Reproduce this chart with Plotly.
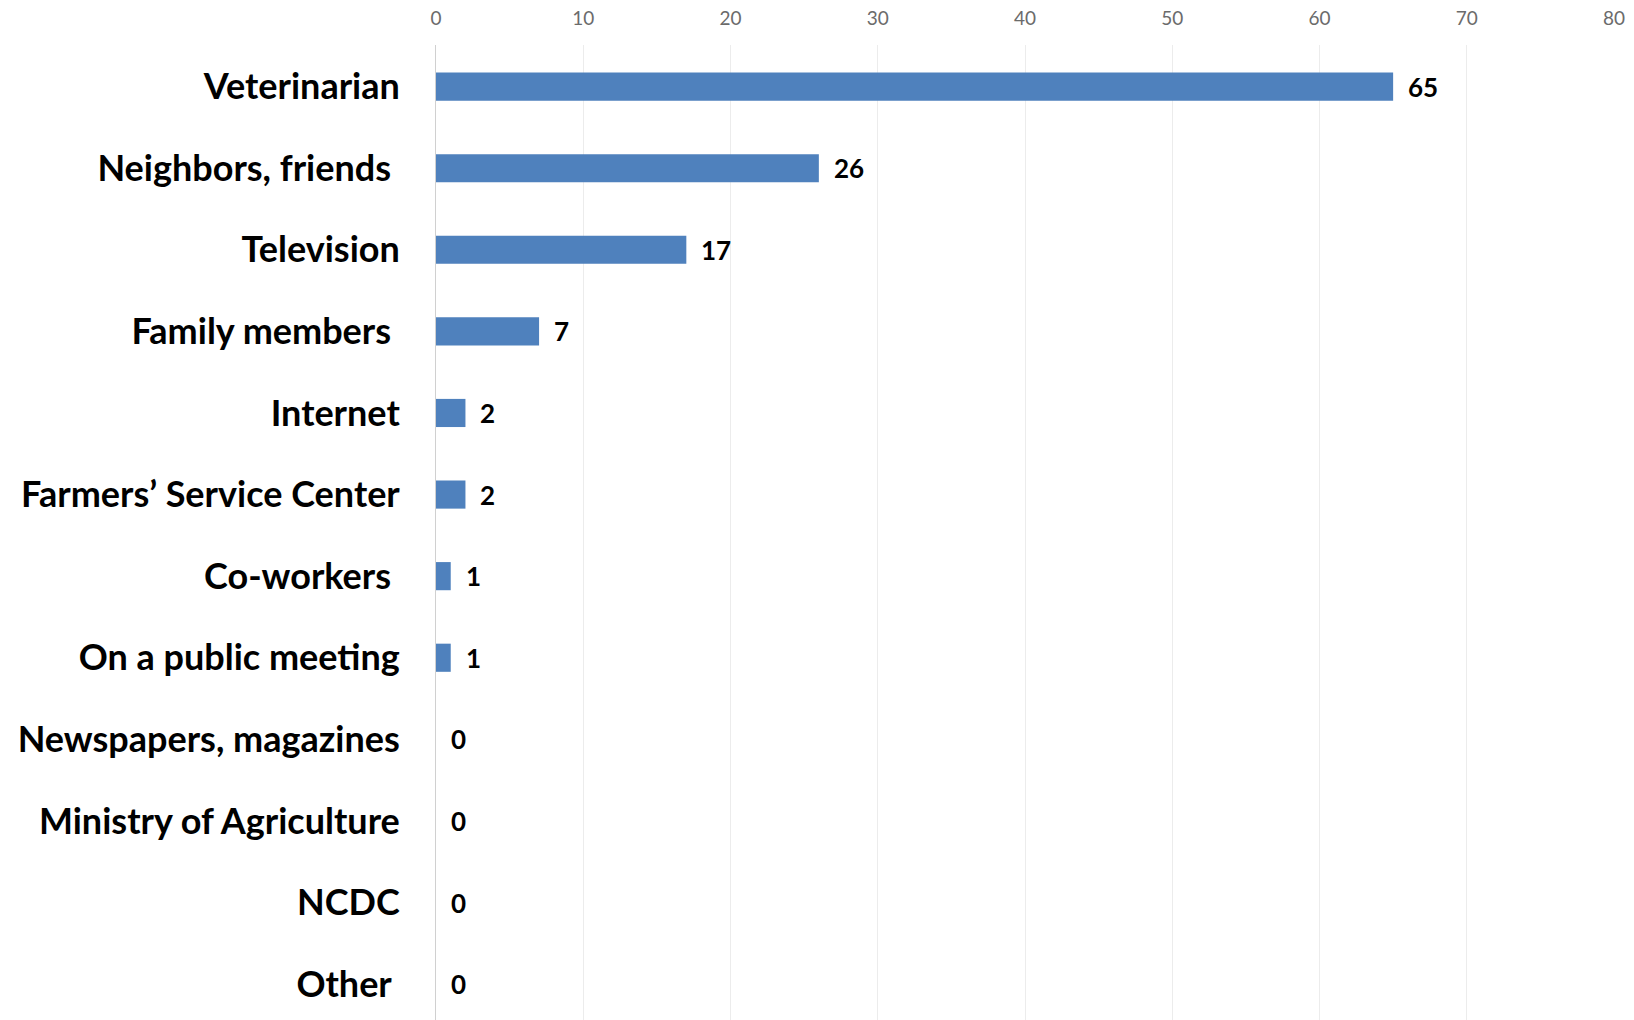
import plotly.graph_objects as go

# categories, top to bottom (trailing nbsp kept where the source label has a trailing space)
sources = [
    "Veterinarian",
    "Neighbors, friends\u00a0",
    "Television",
    "Family members\u00a0",
    "Internet",
    "Farmers’ Service Center",
    "Co-workers\u00a0",
    "On a public meeting",
    "Newspapers, magazines",
    "Ministry of Agriculture",
    "NCDC",
    "Other\u00a0",
]
counts = [65, 26, 17, 7, 2, 2, 1, 1, 0, 0, 0, 0]
x_ticks = [0, 10, 20, 30, 40, 50, 60, 70, 80]

fig = go.Figure()
fig.add_trace(go.Bar(
    x=counts, y=sources, orientation="h",
    marker=dict(color="#4F81BD", line=dict(width=0)),
    hoverinfo="x+y",
))

# value labels just right of each bar end
for s, c in zip(sources, counts):
    fig.add_annotation(x=c, y=s, text=str(c), showarrow=False,
                       xanchor="left", xshift=13,
                       font=dict(family="Lato", size=26, color="#000000", weight="bold"))

fig.update_layout(
    width=1634, height=1020,
    margin=dict(l=436, r=20, t=45, b=0),
    paper_bgcolor="white", plot_bgcolor="white",
    bargap=0.655,
    showlegend=False,
    font=dict(family="Lato"),
)
fig.update_xaxes(
    side="top", range=[0, 80], tickvals=x_ticks,
    showgrid=True, gridcolor="#ececec", gridwidth=1,
    zeroline=False, showline=False,
    tickfont=dict(family="Lato", size=19, color="#6b6b6b"),
    ticklabelstandoff=15,
)
fig.update_yaxes(
    range=[11.44, -0.51],
    showline=True, linecolor="#d0d0d0", linewidth=1,
    showgrid=False, zeroline=False,
    tickfont=dict(family="Lato", size=36, color="#000000", weight="bold"),
    ticklabelstandoff=28,
)

# page has a default 8px body margin; drop it so the chart sits at the window corner
fig.write_html("out.html", config={"displayModeBar": False},
               post_script="document.body.style.margin='0';")
